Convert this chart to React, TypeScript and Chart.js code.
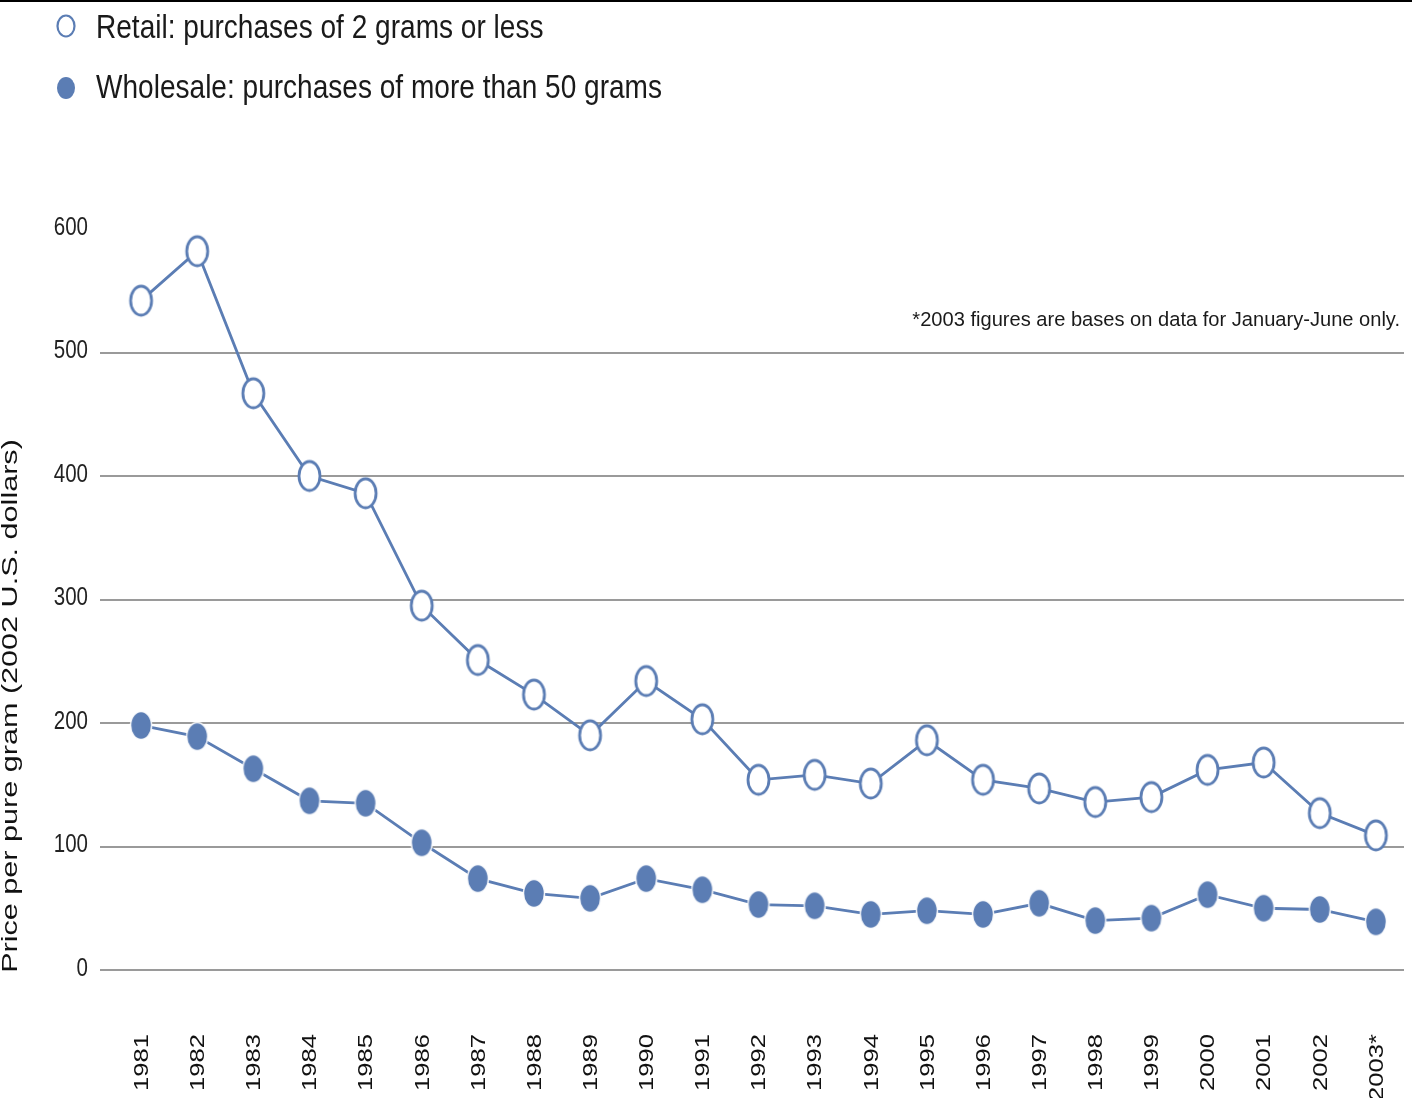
import React, { useEffect, useRef } from 'react';
import { Chart, registerables } from 'chart.js';

Chart.register(...registerables);

const years = ['1981', '1982', '1983', '1984', '1985', '1986', '1987', '1988', '1989', '1990', '1991', '1992', '1993', '1994', '1995', '1996', '1997', '1998', '1999', '2000', '2001', '2002', '2003*'];
const retail = [542, 582, 467, 400, 386, 295, 251, 223, 190, 234, 203, 154, 158, 151, 186, 154, 147, 136, 140, 162, 168, 127, 109];
const wholesale = [198, 189, 163, 137, 135, 103, 74, 62, 58, 74, 65, 53, 52, 45, 48, 45, 54, 40, 42, 61, 50, 49, 39];
const yMin = 0;
const yMax = 600;
const yStep = 100;
const seriesNames = ['Retail: purchases of 2 grams or less', 'Wholesale: purchases of more than 50 grams'];
const noteText = '*2003 figures are bases on data for January-June only.';
const yTitle = 'Price per pure gram (2002 U.S. dollars)';

const BLUE = '#5b7db4';
const GRID = '#9a9a9a';
const TEXT = '#1a1a1a';
const FONT = "'Liberation Sans', Arial, sans-serif";

function makeEllipse(rx: number, ry: number, filled: boolean, lw: number): HTMLCanvasElement {
  const c = document.createElement('canvas');
  const w = Math.ceil(2 * (rx + lw)) + 2;
  const h = Math.ceil(2 * (ry + lw)) + 2;
  c.width = w;
  c.height = h;
  const g = c.getContext('2d')!;
  g.beginPath();
  g.ellipse(w / 2, h / 2, rx, ry, 0, 0, Math.PI * 2);
  if (filled) {
    g.fillStyle = BLUE;
    g.fill();
    if (lw > 0) {
      g.lineWidth = lw;
      g.strokeStyle = 'rgba(255,255,255,0.9)';
      g.stroke();
    }
  } else {
    g.fillStyle = '#ffffff';
    g.fill();
    g.lineWidth = lw;
    g.strokeStyle = BLUE;
    g.stroke();
  }
  return c;
}

function drawText(
  ctx: CanvasRenderingContext2D,
  text: string,
  x: number,
  y: number,
  o: { size: number; sx?: number; align?: CanvasTextAlign; baseline?: CanvasTextBaseline; rotate?: number; color?: string; weight?: string }
) {
  ctx.save();
  ctx.translate(x, y);
  if (o.rotate) ctx.rotate(o.rotate);
  ctx.scale(o.sx ?? 1, 1);
  ctx.font = `${o.weight ?? 'normal'} ${o.size}px ${FONT}`;
  ctx.fillStyle = o.color ?? TEXT;
  ctx.textAlign = o.align ?? 'left';
  ctx.textBaseline = o.baseline ?? 'alphabetic';
  ctx.fillText(text, 0, 0);
  ctx.restore();
}

export default function App() {
  const ref = useRef<HTMLCanvasElement>(null);

  useEffect(() => {
    document.body.style.margin = '0';
    const canvas = ref.current!;
    const hollow = makeEllipse(10.5, 14.5, false, 2.8);
    const solid = makeEllipse(10.5, 14, true, 1.5);
    const hollowLeg = makeEllipse(8.5, 10.5, false, 2.2);
    const solidLeg = makeEllipse(9, 11, true, 0);

    const textPlugin = {
      id: 'textPlugin',
      afterDraw(chart: any) {
        const ctx: CanvasRenderingContext2D = chart.ctx;
        ctx.save();
        ctx.fillStyle = '#000';
        ctx.fillRect(0, 0, chart.width, 2);
        ctx.restore();

        const icons = [hollowLeg, solidLeg];
        seriesNames.forEach((name, i) => {
          const cy = 26 + i * 62;
          const img = icons[i];
          ctx.drawImage(img, 66 - img.width / 2, cy - img.height / 2);
          drawText(ctx, name, 96, 38 + i * 60, { size: 33, sx: 0.85 });
        });

        drawText(ctx, noteText, 1400, 326, { size: 20.5, sx: 0.98, align: 'right' });

        drawText(ctx, yTitle, 11, 706, { size: 22, sx: 1.39, rotate: -Math.PI / 2, align: 'center', baseline: 'middle', color: '#111' });

        const ys = chart.scales.y;
        ys.ticks.forEach((t: any) => {
          const py = ys.getPixelForValue(t.value);
          drawText(ctx, String(t.value), 88, py - 1, { size: 25, sx: 0.82, align: 'right', baseline: 'middle', color: '#222' });
        });

        const xs = chart.scales.x;
        xs.ticks.forEach((t: any, i: number) => {
          const px = xs.getPixelForTick(i);
          const label = String(xs.getLabelForValue(t.value));
          drawText(ctx, label, px + 1, 1034, { size: 21, sx: 1.22, rotate: -Math.PI / 2, align: 'right', baseline: 'middle', color: '#111' });
        });
      },
    };

    const chart = new Chart(canvas, {
      type: 'line',
      data: {
        labels: years,
        datasets: [
          {
            label: seriesNames[0],
            data: retail,
            borderColor: BLUE,
            borderWidth: 2.8,
            pointStyle: hollow as any,
            pointRadius: 12,
            tension: 0,
            clip: false as any,
          },
          {
            label: seriesNames[1],
            data: wholesale,
            borderColor: BLUE,
            borderWidth: 2.8,
            pointStyle: solid as any,
            pointRadius: 12,
            tension: 0,
            clip: false as any,
          },
        ],
      },
      options: {
        responsive: false,
        animation: false,
        devicePixelRatio: 1,
        layout: { autoPadding: false, padding: { top: 229, right: 8, left: 0, bottom: 0 } },
        plugins: { legend: { display: false }, tooltip: { enabled: false }, title: { display: false } },
        scales: {
          x: {
            type: 'category',
            offset: true,
            grid: { display: false, drawTicks: false },
            border: { display: false },
            ticks: { display: false },
            afterFit: (s: any) => {
              s.height = 128;
            },
          },
          y: {
            min: yMin,
            max: yMax,
            ticks: { display: false, stepSize: yStep },
            border: { display: false },
            grid: {
              drawTicks: true,
              tickLength: 13,
              lineWidth: 2,
              color: (c: any) => (c.tick && c.tick.value === yMax ? 'rgba(0,0,0,0)' : GRID),
              tickColor: (c: any) => (c.tick && c.tick.value === yMax ? 'rgba(0,0,0,0)' : GRID),
            },
            afterFit: (s: any) => {
              s.width = 113;
            },
          },
        },
      },
      plugins: [textPlugin],
    });
    return () => chart.destroy();
  }, []);

  return (
    <div style={{ width: 1412, height: 1098, background: '#fff' }}>
      <canvas ref={ref} width={1412} height={1098} style={{ display: 'block' }} />
    </div>
  );
}
